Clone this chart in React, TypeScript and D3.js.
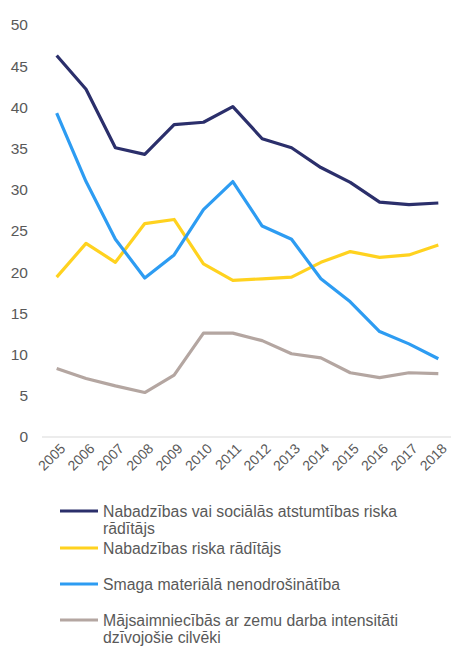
import React from "react";
import * as d3 from "d3";

const years = ["2005","2006","2007","2008","2009","2010","2011","2012","2013","2014","2015","2016","2017","2018"];
const povertyOrExclusion = [46.3,42.2,35.1,34.3,37.9,38.2,40.1,36.2,35.1,32.7,30.9,28.5,28.2,28.4];
const povertyRisk = [19.4,23.5,21.2,25.9,26.4,21.0,19.0,19.2,19.4,21.2,22.5,21.8,22.1,23.3];
const materialDeprivation = [39.3,31.0,24.0,19.3,22.1,27.6,31.0,25.6,24.0,19.2,16.4,12.8,11.3,9.5];
const lowWorkIntensity = [8.3,7.1,6.2,5.4,7.5,12.6,12.6,11.7,10.1,9.6,7.8,7.2,7.8,7.7];
const yTicks = [0,5,10,15,20,25,30,35,40,45,50];

const seriesNames = [
  ["Nabadzības vai sociālās atstumtības riska", "rādītājs"],
  ["Nabadzības riska rādītājs"],
  ["Smaga materiālā nenodrošinātība"],
  ["Mājsaimniecībās ar zemu darba intensitāti", "dzīvojošie cilvēki"],
];
const seriesValues = [povertyOrExclusion, povertyRisk, materialDeprivation, lowWorkIntensity];
const seriesColors = ["#2B2F6B", "#FFD21F", "#2D9CF2", "#B4A6A1"];

export default function App() {
  const W = 451, H = 646;
  const x = d3.scaleBand<string>().domain(years).range([42, 453]).padding(0);
  const y = d3.scaleLinear().domain([0, 50]).range([437, 25]);
  const cx = (yr: string) => (x(yr) as number) + x.bandwidth() / 2;
  const line = d3.line<number>().x((_, i) => cx(years[i])).y((v) => y(v));
  const legendY = [511, 548, 584, 620];
  const font = "'Liberation Sans', Arial, sans-serif";
  const textColor = "#595959";

  return (
    <svg width={W} height={H} style={{ position: "absolute", left: 0, top: 0, fontFamily: font }}>
      <rect width={W} height={H} fill="#fff" />
      {yTicks.map((t) => (
        <text key={t} x={28} y={y(t)} dy="0.35em" textAnchor="end" fontSize={15.5} fill={textColor}>{t}</text>
      ))}
      <line x1={42} x2={451} y1={y(0)} y2={y(0)} stroke="#D9D9D9" strokeWidth={1} />
      {years.map((yr) => (
        <text key={yr} transform={`translate(${cx(yr) + 6},${y(0) + 9}) rotate(-45)`} textAnchor="end" dy="0.35em" fontSize={14} fill={textColor}>{yr}</text>
      ))}
      {seriesValues.map((vals, i) => (
        <path key={i} d={line(vals) || ""} fill="none" stroke={seriesColors[i]} strokeWidth={3.2} strokeLinejoin="round" />
      ))}
      {seriesNames.map((lines, i) => (
        <g key={i}>
          <line x1={60} x2={98} y1={legendY[i]} y2={legendY[i]} stroke={seriesColors[i]} strokeWidth={3} />
          {lines.map((l, j) => (
            <text key={j} x={103} y={legendY[i] + j * 17.5} dy="0.35em" fontSize={15.8} fill={textColor}>{l}</text>
          ))}
        </g>
      ))}
    </svg>
  );
}
